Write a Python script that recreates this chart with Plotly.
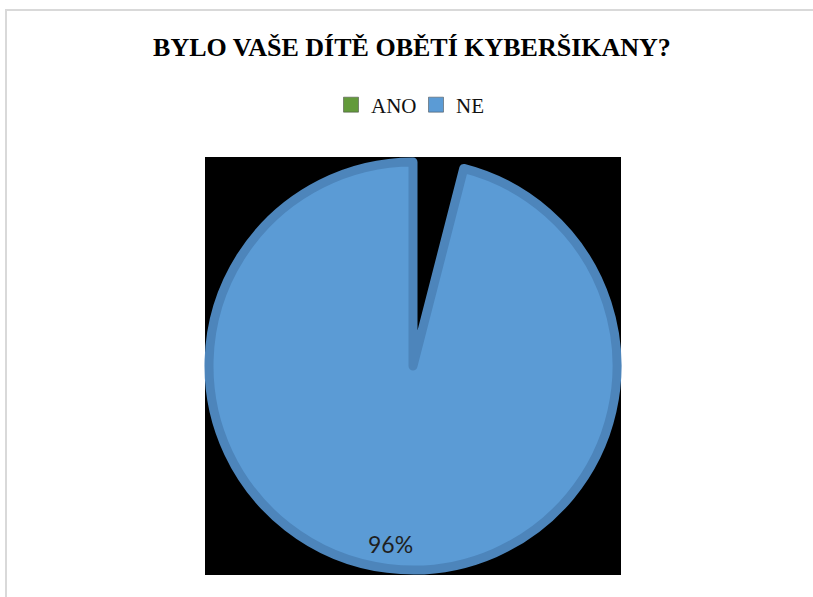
import math
import plotly.graph_objects as go

# Survey answers: "Was your child a victim of cyberbullying?"
labels = ["ANO", "NE"]
values = [4, 96]
legend_colors = ["#639a3b", "#5b9bd5"]
slice_colors = ["#000000", "#5b9bd5"]
edge_colors = ["#000000", "#4d85bb"]

W, H = 813, 597

def px_x(x):
    return x / W

def px_y(y):
    return 1 - y / H

# square plot area (black) and pie domain inside it
area = dict(x0=205, x1=621, y0=157, y1=575)
inset = 4
pie_dom = dict(
    x=[px_x(area["x0"] + inset), px_x(area["x1"] - inset)],
    y=[px_y(area["y1"] - inset), px_y(area["y0"] + inset)],
)

fig = go.Figure()

fig.add_trace(go.Pie(
    labels=labels,
    values=values,
    sort=False,
    direction="clockwise",
    rotation=0,
    marker=dict(colors=slice_colors, line=dict(color=edge_colors, width=9)),
    textinfo="none",
    hoverinfo="label+percent",
    showlegend=False,
    domain=pie_dom,
))

# legend entries
for name, col in zip(labels, legend_colors):
    fig.add_trace(go.Scatter(
        x=[None], y=[None], mode="markers", name=name,
        marker=dict(symbol="square", size=15, color=col,
                    line=dict(color="#3f3f3f", width=0.5)),
    ))

# percentage label for the NE slice, placed along its bisector near the rim
total = sum(values)
start = values[0] / total * 360
mid = math.radians(start + values[1] / total * 360 / 2)
cx = (area["x0"] + area["x1"]) / 2
cy = (area["y0"] + area["y1"]) / 2
r = (area["x1"] - area["x0"]) / 2 - inset
lab_r = 0.88 * r
lx = cx + lab_r * math.sin(mid)
ly = cy - lab_r * math.cos(mid)

fig.add_annotation(
    x=px_x(lx), y=px_y(ly), xref="paper", yref="paper",
    text=f"{round(values[1] / total * 100)}%",
    showarrow=False, xanchor="center", yanchor="middle",
    font=dict(family="Lato, 'Open Sans', sans-serif", size=23, color="#1f1f1f"),
)

fig.update_layout(
    width=W, height=H,
    margin=dict(l=0, r=0, t=0, b=0),
    paper_bgcolor="white",
    plot_bgcolor="white",
    title=dict(
        text="<b>BYLO VAŠE DÍTĚ OBĚTÍ KYBERŠIKANY?</b>",
        x=px_x(412), xanchor="center", xref="paper",
        y=px_y(47), yanchor="middle", yref="container",
        font=dict(family="'Liberation Serif', serif", size=26, color="#000000"),
    ),
    legend=dict(
        orientation="h", x=px_x(416), xanchor="center",
        y=px_y(105), yanchor="middle",
        font=dict(family="'Liberation Serif', serif", size=21, color="#111111"),
        entrywidth=40, entrywidthmode="pixels",
        bgcolor="rgba(0,0,0,0)",
    ),
    xaxis=dict(visible=False),
    yaxis=dict(visible=False),
    shapes=[
        # outer frame
        dict(type="rect", xref="paper", yref="paper",
             x0=px_x(6), x1=1.02, y0=-0.02, y1=px_y(10),
             line=dict(color="#d9d9d9", width=2), fillcolor="rgba(0,0,0,0)",
             layer="below"),
        # black plot area behind the pie
        dict(type="rect", xref="paper", yref="paper",
             x0=px_x(area["x0"]), x1=px_x(area["x1"]),
             y0=px_y(area["y1"]), y1=px_y(area["y0"]),
             line=dict(width=0), fillcolor="#000000", layer="below"),
    ],
)

fig.write_html("out.html")
